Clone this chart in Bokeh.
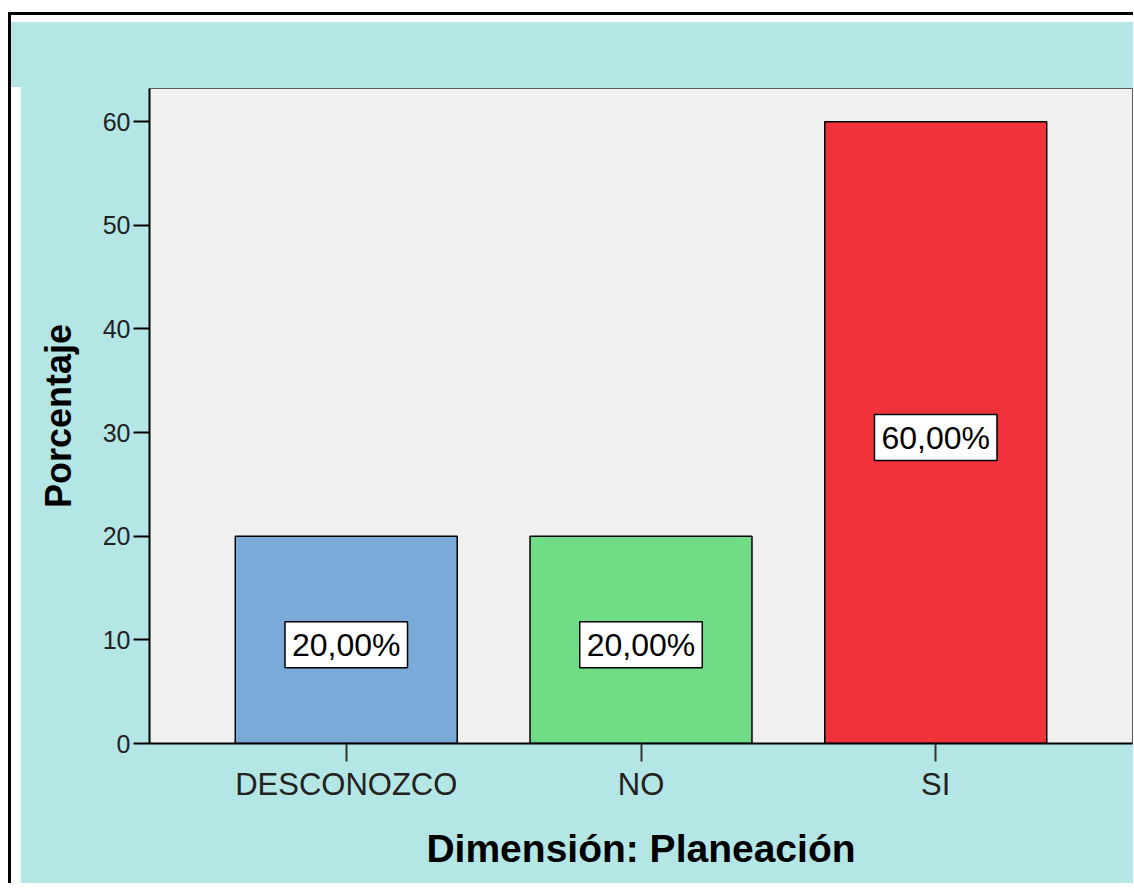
from bokeh.plotting import figure
from bokeh.models import FactorRange, Range1d, Label, FixedTicker, ColumnDataSource
from bokeh.embed import file_html
from bokeh.resources import INLINE

categories = ["DESCONOZCO", "NO", "SI"]
percentages = [20.0, 20.0, 60.0]
bar_labels = ["20,00%", "20,00%", "60,00%"]
bar_colors = ["#7aaad7", "#70dc85", "#f0323a"]
y_ticks = [0, 10, 20, 30, 40, 50, 60]
x_title = "Dimensión: Planeación"
y_title = "Porcentaje"

FONT = "Liberation Sans"
CYAN = "#b4e6e6"

p = figure(
    x_range=FactorRange(factors=categories, range_padding=0.1675, range_padding_units="absolute"),
    y_range=Range1d(0, 63.2),
    width=1125, height=871,
    output_backend="svg", toolbar_location=None, tools="",
    min_border_left=129, min_border_right=13, min_border_top=66, min_border_bottom=150,
)
p.styles = {
    "margin-left": "8px", "margin-top": "12px", "margin-bottom": "-20px",
    "border-left": "3px solid black", "border-top": "3px solid black",
    "padding-left": "9px", "padding-top": "7px",
    "background": f"linear-gradient(to bottom, white 0px, white 7px, {CYAN} 7px, {CYAN} 72px, white 72px)",
}

p.background_fill_color = "#f0f0f0"
p.border_fill_color = CYAN
p.outline_line_color = "#5a5a5a"
p.outline_line_width = 1
p.xgrid.visible = False
p.ygrid.visible = False

src = ColumnDataSource(dict(x=categories, top=percentages, color=bar_colors))
p.vbar(x="x", top="top", width=0.753, source=src, fill_color="color",
       line_color="black", line_width=1.5)

for i, (v, t) in enumerate(zip(percentages, bar_labels)):
    p.add_layout(Label(x=i + 0.5, y=v / 2, text=t, text_align="center", text_baseline="middle",
                       text_font=FONT, text_font_size="32px", text_color="black",
                       y_offset=-5,
                       background_fill_color="white", background_fill_alpha=1,
                       border_line_color="black", border_line_width=1.5, padding=(7, 5)))

# y axis
p.yaxis.ticker = FixedTicker(ticks=y_ticks)
p.yaxis.minor_tick_line_color = None
p.yaxis.major_tick_in = 0
p.yaxis.major_tick_out = 16
p.yaxis.major_tick_line_width = 2
p.yaxis.major_tick_line_color = "black"
p.yaxis.axis_line_color = "black"
p.yaxis.axis_line_width = 2
p.yaxis.major_label_text_font = FONT
p.yaxis.major_label_text_font_size = "25px"
p.yaxis.major_label_text_color = "#222222"
p.yaxis.major_label_standoff = 3
p.yaxis.axis_label = y_title
p.yaxis.axis_label_text_font = FONT
p.yaxis.axis_label_text_font_size = "36px"
p.yaxis.axis_label_text_font_style = "bold"
p.yaxis.axis_label_text_color = "black"
p.yaxis.axis_label_standoff = 21

# x axis
p.xaxis.major_tick_in = 0
p.xaxis.major_tick_out = 18
p.xaxis.major_tick_line_width = 2
p.xaxis.major_tick_line_color = "#333333"
p.xaxis.axis_line_color = "black"
p.xaxis.axis_line_width = 2
p.xaxis.major_label_text_font = FONT
p.xaxis.major_label_text_font_size = "31px"
p.xaxis.major_label_text_color = "#222222"
p.xaxis.major_label_standoff = 5
p.xaxis.axis_label = x_title
p.xaxis.axis_label_text_font = FONT
p.xaxis.axis_label_text_font_size = "39px"
p.xaxis.axis_label_text_font_style = "bold"
p.xaxis.axis_label_text_color = "black"
p.xaxis.axis_label_standoff = 22

open("out.html", "w").write(file_html(p, INLINE))
